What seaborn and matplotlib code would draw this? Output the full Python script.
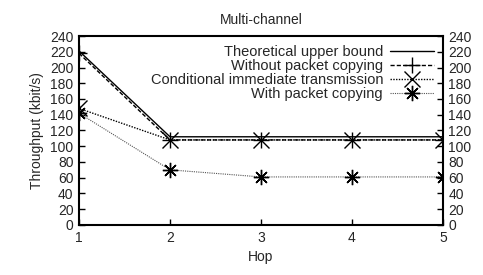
import matplotlib
matplotlib.use("Agg")
import matplotlib.pyplot as plt
import seaborn as sns
import pandas as pd

# ----------------------------------------------------------------------
# Data
# ----------------------------------------------------------------------
hops = [1, 2, 3, 4, 5]
theoretical = [221, 112, 112, 112, 112]
without_copying = [218, 108, 108, 108, 108]
conditional = [148, 108, 108, 108, 108]
with_copying = [142, 70, 61, 61, 61]

labels = [
    "Theoretical upper bound",
    "Without packet copying",
    "Conditional immediate transmission",
    "With packet copying",
]
y_ticks = list(range(0, 241, 20))

sns.set_theme(style="ticks")
plt.rcParams["font.family"] = ["Liberation Sans", "DejaVu Sans"]

df = pd.DataFrame({"Hop": hops,
                   labels[0]: theoretical,
                   labels[1]: without_copying,
                   labels[2]: conditional,
                   labels[3]: with_copying})

styles = [
    dict(linestyle="-", marker=None, linewidth=1.0, color="black"),
    dict(linestyle=(0, (3, 1.5)), marker="+", linewidth=1.0, color="black", markersize=12),
    dict(linestyle=(0, (1, 1)), marker="x", linewidth=1.0, color="black", markersize=11),
    dict(linestyle=(0, (1, 1)), marker=(8, 2, 0), linewidth=0.8, color="#555555",
         markersize=11),
]

fig = plt.figure(figsize=(4.83, 2.75), dpi=100)
ax = fig.add_axes([0.1636, 0.182, 0.7534, 0.687])

for lab, st in zip(labels, styles):
    sns.lineplot(data=df, x="Hop", y=lab, ax=ax, label=lab, markeredgewidth=1.0,
                 markeredgecolor="black", **st)

ax.set_xlim(1, 5)
ax.set_ylim(0, 240)
ax.set_xticks(hops)
ax.set_yticks(y_ticks)
ax.tick_params(direction="in", length=4, width=1, labelsize=10, pad=4,
               right=True, top=False, color="black")
ax.tick_params(axis="y", labelright=True)
for sp in ax.spines.values():
    sp.set_visible(True)
    sp.set_linewidth(1.5)
    sp.set_color("black")

ax.set_xlabel("Hop", fontsize=10)
ax.set_ylabel("Throughput (kbit/s)", fontsize=10)
ax.set_title("Multi-channel", fontsize=10, pad=9)

ax.legend(loc="upper right", frameon=False, markerfirst=False, fontsize=10.5,
          handlelength=3.0, labelspacing=0.0, borderaxespad=0.2, handletextpad=0.5)

fig.savefig("out.png", dpi=100)
